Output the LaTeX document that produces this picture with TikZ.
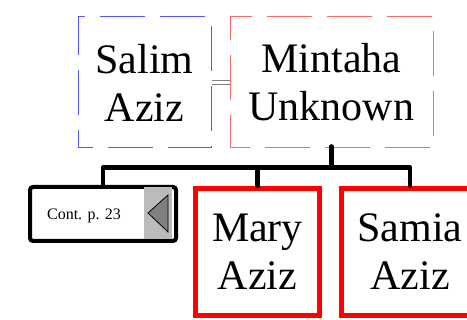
\documentclass[tikz,border=0pt]{standalone}
\usepackage{fontspec}
\setmainfont{Liberation Serif}
\usetikzlibrary{calc}
\definecolor{dblue}{HTML}{5555FF}
\definecolor{dred}{HTML}{FF6666}
\definecolor{panelgray}{HTML}{BBBBBB}
\definecolor{trigray}{HTML}{808080}
\tikzset{
  big/.style={font=\fontsize{42}{48}\selectfont, align=center, inner sep=0pt},
  spouse/.style={big, rectangle, line width=1pt, dash pattern=on 45pt off 15pt},
  child/.style={big, rectangle, draw=red, line width=5pt},
  contbox/.style={rectangle, draw=black, line width=4pt, rounded corners=3pt, inner sep=0pt},
  conn/.style={draw=black, line width=4.5pt, line join=round, line cap=round},
  marr/.style={draw=gray, line width=0.9pt}
}
\begin{document}
\begin{tikzpicture}[x=1pt,y=-1pt]
\useasboundingbox (0,0) rectangle (467,320);
\clip (0,0) rectangle (467,320);
\node[spouse, draw=dblue, minimum width=133pt, minimum height=131pt, dash phase=30pt] (salim) at (144.5,82.5) {Salim\\Aziz};
\node[spouse, draw=dred, minimum width=203pt, minimum height=131pt, dash phase=25pt] (mintaha) at (331.5,82.5) {Mintaha\\Unknown};
\draw[marr] ($(salim.east)+(0,-2)$) -- ($(mintaha.west)+(0,-2)$);
\draw[marr] ($(salim.east)+(0,2)$) -- ($(mintaha.west)+(0,2)$);
\node[contbox, minimum width=146pt, minimum height=54pt] (cont) at (103,214) {};
\node[font=\fontsize{16}{19}\selectfont, inner sep=0pt] (contlabel) at (84,216) {Cont. p. 23};
\fill[panelgray] ($(cont.north east)+(-34,2)$) rectangle ($(cont.south east)+(-6,-4)$);
\draw[fill=trigray, line width=0.8pt, line join=miter] ($(cont.east)+(-30,-1)$) -- ($(cont.east)+(-10,-19)$) -- ($(cont.east)+(-10,18)$) -- cycle;
\node[child, minimum width=124pt, minimum height=127pt] (mary) at (257.5,252) {Mary\\Aziz};
\node[child, minimum width=137pt, minimum height=127pt] (samia) at (410,252) {Samia\\Aziz};
\coordinate (j) at (331.5,167.5);
\draw[conn] ($(mintaha.south)+(0,-2)$) -- (j);
\draw[conn] (cont.north) |- (j) -| (samia.north);
\draw[conn] (mary.north) -- (mary.north |- j);
\end{tikzpicture}
\end{document}
